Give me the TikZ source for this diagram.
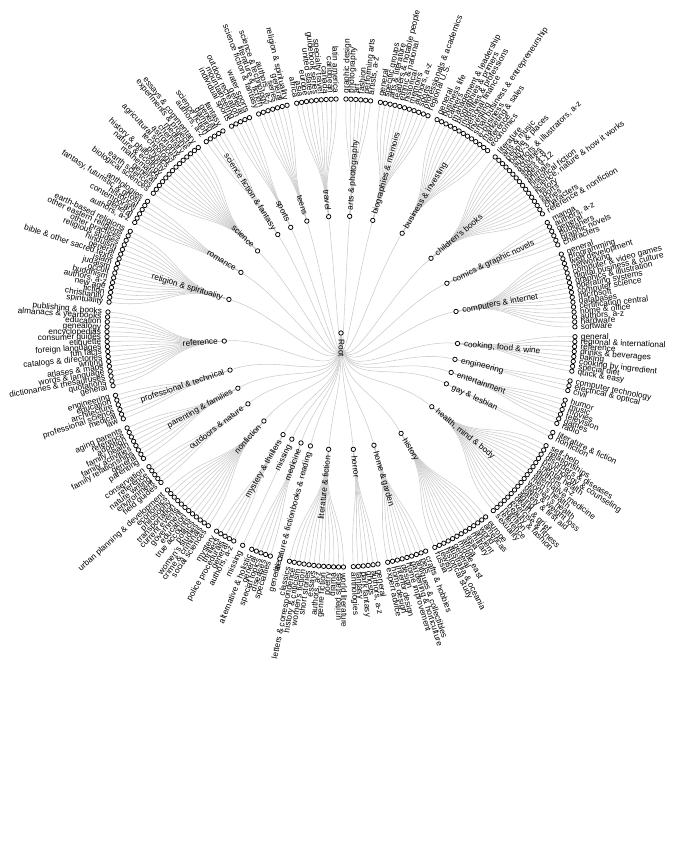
\documentclass[tikz,border=0pt]{standalone}
\usepackage{fontspec}
\setmainfont{Liberation Sans}
\usetikzlibrary{backgrounds}
\tikzset{
  dot/.style={circle, draw=black, fill=white, line width=0.75pt, inner sep=0pt, minimum size=4.4pt},
  lbl/.style={font=\fontsize{8.3}{8.3}\selectfont, inner sep=0pt, outer sep=0pt, text height=5.2pt, text depth=0pt},
  link/.style={draw=black!20, line width=0.55pt},
}
\def\U{2.4242424}
\def\curpos{0.5}
\def\rphi{-89.0909}
% pass 1: nodes and labels
\newcommand\catnodes[3]{%
  \foreach \x [count=\n] in {#3} {\xdef\catn{\n}}%
  \pgfmathsetmacro\cth{(\curpos+0.25*(\catn-1))*\U}%
  \pgfmathsetmacro\cphi{90-\cth}%
  \node[dot] (c#1) at (\cphi:117) {};
  \ifdim \cth pt<180pt
    \node[lbl,anchor=west,rotate=\cphi] at (\cphi:123.5) {#2};
  \else
    \node[lbl,anchor=east,rotate=\cphi+180] at (\cphi:123.5) {#2};
  \fi
  \foreach \lab [count=\i from 0] in {#3} {
    \pgfmathsetmacro\lth{(\curpos+0.5*\i)*\U}
    \pgfmathsetmacro\lphi{90-\lth}
    \node[dot] (l#1-\i) at (\lphi:234) {};
    \ifdim \lth pt<180pt
      \node[lbl,anchor=west,rotate=\lphi] at (\lphi:240) {\lab};
    \else
      \node[lbl,anchor=east,rotate=\lphi+180] at (\lphi:240) {\lab};
    \fi
  }
  \pgfmathsetmacro\newpos{\curpos+0.5*(\catn-1)+1}%
  \xdef\curpos{\newpos}%
}
% pass 2: connectors
\newcommand\catlinks[3]{%
  \foreach \x [count=\n] in {#3} {\xdef\catn{\n}}%
  \pgfmathsetmacro\cth{(\curpos+0.25*(\catn-1))*\U}%
  \pgfmathsetmacro\cphi{90-\cth}%
  \draw[link] (root) .. controls (\rphi:58.5) and (\cphi:58.5) .. (c#1);
  \foreach \lab [count=\i from 0] in {#3} {
    \pgfmathsetmacro\lth{(\curpos+0.5*\i)*\U}
    \pgfmathsetmacro\lphi{90-\lth}
    \draw[link] (c#1) .. controls (\cphi:175.5) and (\lphi:175.5) .. (l#1-\i);
  }
  \pgfmathsetmacro\newpos{\curpos+0.5*(\catn-1)+1}%
  \xdef\curpos{\newpos}%
}
\newcommand\alldata{%
\drawcat{1}{arts \& photography}{graphic design, photography, art, fashion, performing arts, {artists, a-z}}
\drawcat{2}{biographies \& memoirs}{general, specific groups, arts \& literature, leaders \& notable people, ethnic \& national, historical, memoirs, {authors, a-z}, sports, professionals \& academics, regional U.S.}
\drawcat{3}{business \& investing}{general, business life, careers, management \& leadership, biographies \& primers, industries \& professions, personal finance, investing, small business \& entrepreneurship, e-business, marketing \& sales, reference, economics}
\drawcat{4}{children's books}{literature, arts \& music, people \& places, baby-3, {authors \& illustrators, a-z}, activities, ages 4-8, ages 9-12, animals, historical fiction, {science, nature \& how it works}, history, sports, series, characters, reference \& nonfiction}
\drawcat{5}{comics \& graphic novels}{manga, {authors, a-z}, general, publishers, graphic novels, characters}
\drawcat{6}{computers \& internet}{general, programming, web development, networking, computer \& video games, digital business \& culture, graphics \& illustration, operating systems, computer science, microsoft, databases, certification central, home \& office, {authors, a-z}, hardware, software}
\drawcat{7}{cooking, food \& wine}{general, regional \& international, reference, drinks \& beverages, baking, cooking by ingredient, special diet, quick \& easy}
\drawcat{8}{engineering}{computer technology, electrical \& optical, civil}
\drawcat{9}{entertainment}{humor, music, movies, television, games, radio}
\drawcat{10}{gay \& lesbian}{literature \& fiction, nonfiction}
\drawcat{11}{health, mind \& body}{self-help, relationships, disorders \& diseases, psychology \& counseling, mental health, {authors, a-z}, alternative medicine, men's health, women's health, diets \& weight loss, safety \& first aid, aging, death \& grief, exercise \& fitness, beauty \& fashion, nutrition, reference, sexuality}
\drawcat{12}{history}{europe, americas, world, ancient, military, asia, africa, middle east, general, australia \& oceania, historical study, jewish, russia}
\drawcat{13}{home \& garden}{crafts \& hobbies, pets, antiques \& collectibles, gardening \& horticulture, home improvement, design, interior design, home design, expert advice}
\drawcat{14}{horror}{general, {authors, a-z}, ghosts, dark fantasy, fantasy, anthologies}
\drawcat{15}{literature \& fiction}{world literature, united states, drama, poetry, genre fiction, {authors, a-z}, essays, short stories, women's fiction, history \& criticism, letters \& correspondence, classics}
\drawcat{16}{literature \& fictionbooks \& reading}{general}
\drawcat{17}{medicine}{specialties, diseases, special topics, general, alternative \& holistic}
\drawcat{18}{missing}{missing}
\drawcat{19}{mystery \& thrillers}{{authors, a-z}, general, police procedurals, thrillers, mystery}
\drawcat{20}{nonfiction}{social sciences, crime \& criminals, women's studies, politics, true accounts, education, government, current events, transportation, philosophy, economics, urban planning \& development}
\drawcat{21}{outdoors \& nature}{field guides, environment, nature writing, reference, conservation}
\drawcat{22}{parenting \& families}{parenting, general, family relationships, family activities, family health, adoption, reference, aging parents}
\drawcat{23}{professional \& technical}{law, medical, professional science, architecture, education, engineering}
\drawcat{24}{reference}{general, quotations, dictionaries \& thesauruses, words \& language, atlases \& maps, writing, catalogs \& directories, fun facts, foreign languages, etiquette, consumer guides, encyclopedias, genealogy, education, almanacs \& yearbooks, publishing \& books}
\drawcat{25}{religion \& spirituality}{spirituality, christianity, fiction, new age, {authors, a-z}, buddhism, occult, judaism, islam, bible \& other sacred texts, general, hinduism, religious studies, other practices, other eastern religions, earth-based religions}
\drawcat{26}{romance}{{authors, a-z}, general, contemporary, historical, {fantasy, futuristic \& ghost}, anthologies}
\drawcat{27}{science}{biological sciences, earth sciences, general, mathematics, nature \& ecology, history \& philosophy, physics, technology, agricultural sciences, astronomy, chemistry, medicine, experiments \& projects, essays \& commentary}
\drawcat{28}{science fiction \& fantasy}{{authors, a-z}, science fiction, gaming, general, fantasy}
\drawcat{29}{sports}{individual sports, mountaineering, outdoor recreation, general, water sports}
\drawcat{30}{teens}{science fiction \& fantasy, literature \& fiction, science \& technology, {authors, a-z}, series, general, religion \& spirituality}
\drawcat{31}{travel}{africa, asia, europe, united states, guidebook series, specialty travel, canada, caribbean, latin america}
}
\begin{document}
\begin{tikzpicture}[x=1pt,y=1pt]
\useasboundingbox (-341,-525) rectangle (335,333);
\node[dot] (root) at (0,0) {};
\node[lbl,anchor=west,rotate=\rphi] at (\rphi:6.5) {Root};
\let\drawcat\catnodes
\alldata
\begin{scope}[on background layer]
  \fill[white] (-341,-525) rectangle (335,333);
  \gdef\curpos{0.5}
  \let\drawcat\catlinks
  \alldata
\end{scope}
\end{tikzpicture}
\end{document}
